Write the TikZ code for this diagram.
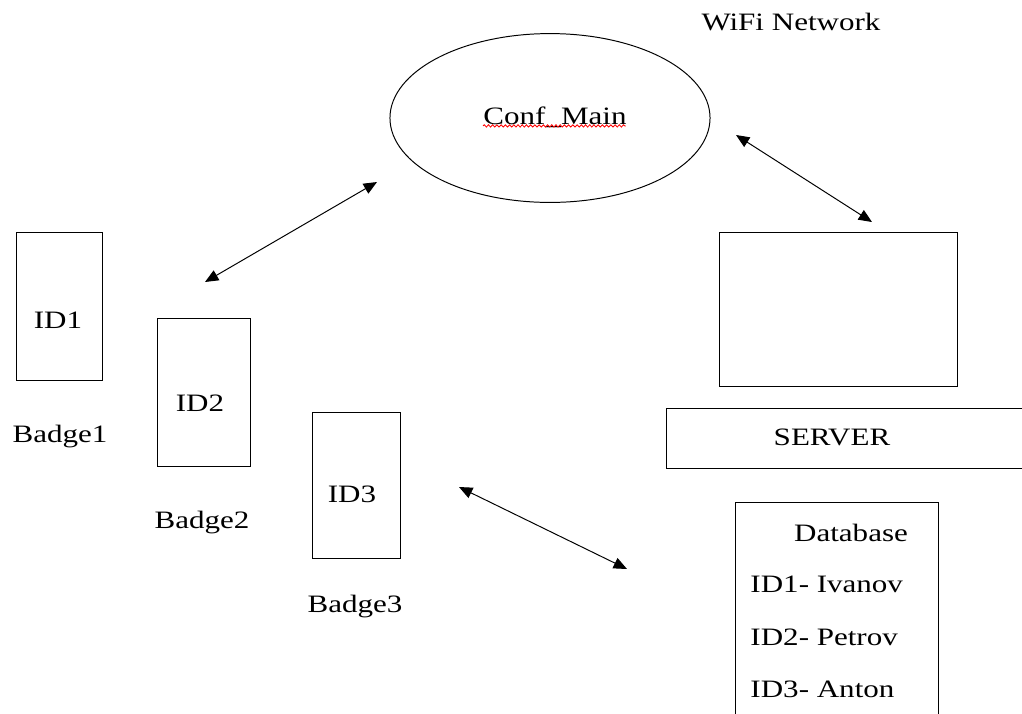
\documentclass[tikz,border=0pt]{standalone}
\usepackage{fontspec}
\setmainfont[FakeStretch=1.24]{Liberation Serif}
\usetikzlibrary{arrows.meta,decorations.pathmorphing,shapes.geometric}

\begin{document}
\begin{tikzpicture}[x=0.025cm, y=-0.025cm, line width=0.7pt,
	box/.style={draw, rectangle, inner sep=0pt},
	txt/.style={inner sep=0pt, font=\fontsize{17.8}{21}\selectfont},
	>={Triangle[length=9.5pt,width=8pt]}]

\useasboundingbox (0,0) rectangle (1022,713);

\node[txt] (wifi) at (791,22) {WiFi Network};
\node[draw, ellipse, inner sep=0pt,
	minimum width=8cm, minimum height=4.22cm] (conf) at (550,118) {};
\node[txt] (conftxt) at (555,117) {Conf\_Main};
\draw[red, line width=0.6pt, decorate,
	decoration={snake, amplitude=0.8pt, segment length=3pt}]
	(conftxt.south west) ++(0,-2) -- ++(143,0);

% badges
\node[box, minimum width=2.125cm, minimum height=3.675cm] (badge1) at (59.5,306.5) {};
\node[box, minimum width=2.3cm, minimum height=3.675cm] (badge2) at (204,392.5) {};
\node[box, minimum width=2.175cm, minimum height=3.625cm] (badge3) at (356.5,485.5) {};
\node[txt] (id1) at (58,320) {ID1};
\node[txt] (id2) at (200,403) {ID2};
\node[txt] (id3) at (352,494) {ID3};
\node[txt] (lab1) at (60,437) {Badge1};
\node[txt] (lab2) at (202,523) {Badge2};
\node[txt] (lab3) at (355,607) {Badge3};

% server side
\node[box, minimum width=5.925cm, minimum height=3.825cm] (monitor) at (838.5,309.5) {};
\node[box, minimum width=8.95cm, minimum height=1.5cm] (server) at (846,438) {};
\node[txt] (servertxt) at (832,437) {SERVER};
\node[box, minimum width=5.05cm, minimum height=6cm] (db) at (837,623) {};
\node[txt] (dbtxt) at (851,533) {Database};
\node[txt, anchor=west] (row1) at (750,584) {ID1- Ivanov};
\node[txt, anchor=west] (row2) at (750,637) {ID2- Petrov};
\node[txt, anchor=west] (row3) at (750,689) {ID3- Anton};

% links
\coordinate (a1) at (377,182); \coordinate (a2) at (205,282);
\coordinate (b1) at (736,135); \coordinate (b2) at (872,222);
\coordinate (c1) at (459,487); \coordinate (c2) at (627,569);
\draw[<->] (a1) -- (a2);
\draw[<->] (b1) -- (b2);
\draw[<->] (c1) -- (c2);
\end{tikzpicture}
\end{document}
